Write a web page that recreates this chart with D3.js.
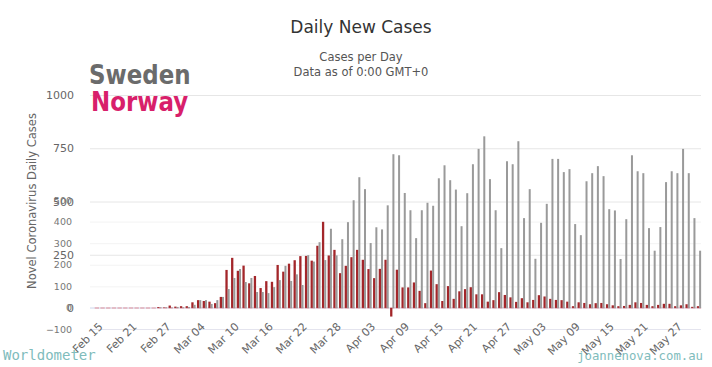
<!DOCTYPE html>
<html><head><meta charset="utf-8">
<script src="https://cdn.jsdelivr.net/npm/d3@7"></script>
<style>
html,body{margin:0;padding:0;background:#fff;}
#wrap{position:relative;width:712px;height:367px;}
svg{display:block;font-family:"DejaVu Sans",sans-serif;}
.xl{position:absolute;font-family:"DejaVu Sans",sans-serif;font-size:11px;color:#666;white-space:nowrap;line-height:11px;transform-origin:100% 0;transform:rotate(-45deg);}
</style></head>
<body><div id="wrap"><svg id="c" width="712" height="367"></svg></div>
<script>
// ---- data ----
const startDate = "2020-02-15";
const dayCount = 107; // Feb 15 .. May 31
const xTickLabels = ["Feb 15","Feb 21","Feb 27","Mar 04","Mar 10","Mar 16","Mar 22","Mar 28","Apr 03","Apr 09","Apr 15","Apr 21","Apr 27","May 03","May 09","May 15","May 21","May 27"];
const swedenTicks = [0,250,500,750,1000];
const norwayTicks = [-100,0,100,200,300,400,500];
const sweden = [0,0,0,0,0,0,0,0,0,0,0,3,3,2,5,3,5,
 15,37,37,19,37,52,89,141,183,122,141,75,75,70,98,131,198,127,158,108,248,218,309,225,372,247,323,403,506,614,558,305,379,369,482,722,717,540,459,328,459,494,480,609,670,600,556,384,539,675,747,806,605,459,281,689,675,783,422,558,231,400,489,700,700,638,652,394,342,595,633,666,619,464,458,230,417,717,642,633,375,269,380,591,642,633,747,633,422,269];
const norway = [0,0,0,0,0,0,0,0,0,0,0,4,2,11,6,8,8,
 26,36,32,29,22,51,176,232,172,196,114,148,92,124,121,199,168,205,221,240,241,219,288,399,243,269,161,195,235,269,223,180,138,181,223,-40,177,95,95,118,79,22,173,110,32,101,42,77,87,96,63,63,29,36,73,60,49,28,45,26,37,59,53,42,37,36,29,8,26,23,17,22,23,17,12,8,9,14,26,23,14,8,14,19,19,8,12,17,5,8];

// ---- scales ----
const svg = d3.select("#c");
const fmt = d3.utcFormat("%b %d");
const t0 = new Date(startDate+"T00:00:00Z");
const days = d3.utcDay.range(t0, d3.utcDay.offset(t0, dayCount));
const cats = days.map(d => fmt(d));
const step = 5.68;
const x = d3.scaleBand().domain(cats).range([93.2, 93.2 + step*dayCount]).padding(0);
const cx = c => x(c) + x.bandwidth()/2;
const ySwe = d3.scaleLinear().domain([0,1000]).range([308,95]);
const yNor = d3.scaleLinear().domain([-100,500]).range([329.5,200]);
const plotL = 90, plotR = 701;

// titles
svg.append("text").attr("x",361).attr("y",33).attr("text-anchor","middle")
  .attr("font-size",17).attr("fill","#333").text("Daily New Cases");
svg.append("text").attr("x",361).attr("y",61).attr("text-anchor","middle")
  .attr("font-size",11.5).attr("fill","#555").text("Cases per Day");
svg.append("text").attr("x",361).attr("y",76).attr("text-anchor","middle")
  .attr("font-size",11.5).attr("fill","#555").text("Data as of 0:00 GMT+0");

// faint norway grid
const gN = svg.append("g").attr("transform",`translate(${plotL},0)`)
  .call(d3.axisLeft(yNor).tickValues(norwayTicks.filter(v=>v>0 && v<500)).tickSize(-(plotR-plotL)).tickFormat(""));
gN.select(".domain").remove();
gN.selectAll("line").attr("stroke","#f3f3f3");

// sweden grid
const gS = svg.append("g").attr("transform",`translate(${plotL},0)`)
  .call(d3.axisLeft(ySwe).tickValues(swedenTicks.filter(v=>v>0)).tickSize(-(plotR-plotL)).tickFormat(""));
gS.select(".domain").remove();
gS.selectAll("line").attr("stroke","#e6e6e6");

// baseline lines
svg.append("line").attr("x1",plotL).attr("x2",plotR).attr("y1",yNor(-100)).attr("y2",yNor(-100)).attr("stroke","#e4e4ee");
svg.append("line").attr("x1",plotL).attr("x2",plotR).attr("y1",ySwe(0)).attr("y2",ySwe(0)).attr("stroke","#ccd6eb");

// y labels sweden
const lS = svg.append("g").attr("transform","translate(74,0)")
  .call(d3.axisLeft(ySwe).tickValues(swedenTicks).tickSize(0).tickPadding(0).tickFormat(d3.format("d")));
lS.select(".domain").remove();
lS.selectAll("text").attr("font-size",11).attr("fill","#666").attr("font-family","DejaVu Sans");
// y labels norway
const lN = svg.append("g").attr("transform","translate(72,0)")
  .call(d3.axisLeft(yNor).tickValues(norwayTicks).tickSize(0).tickPadding(0).tickFormat(d3.format("d")));
lN.select(".domain").remove();
lN.selectAll("text").attr("font-size",9.5).attr("fill","#777").attr("font-family","DejaVu Sans");

// y axis title
svg.append("text").attr("transform","translate(36,201) rotate(-90)").attr("text-anchor","middle")
  .attr("font-size",11.5).attr("fill","#666").text("Novel Coronavirus Daily Cases");

// bars
svg.append("g").selectAll("rect").data(cats).join("rect")
  .attr("x", c => cx(c)-1.3).attr("y",307).attr("width",4.3).attr("height",2)
  .attr("fill","#e3aab4").attr("opacity",0.7);
svg.append("g").selectAll("rect").data(cats.map((c,i)=>({c,v:norway[i]}))).join("rect")
  .attr("x", d => cx(d.c)-1.3).attr("width",2.3)
  .attr("y", d => Math.min(yNor(d.v), yNor(0)))
  .attr("height", d => Math.abs(yNor(d.v)-yNor(0)))
  .attr("fill","#a3262a");
svg.append("g").selectAll("rect").data(cats.map((c,i)=>({c,v:sweden[i]}))).join("rect")
  .attr("x", d => cx(d.c)+1).attr("width",2)
  .attr("y", d => ySwe(d.v))
  .attr("height", d => ySwe(0)-ySwe(d.v))
  .attr("fill","#9a9a9a");

// x labels (HTML, rotated -45deg around their top-right corner)
d3.select("#wrap").selectAll("div.xl").data(xTickLabels).join("div")
  .attr("class","xl")
  .style("right", d => (712 - (cx(d) + 1)) + "px")
  .style("top", "321px")
  .text(d => d);

// legend-like overlays
svg.append("text").attr("transform","translate(89,84) scale(0.85,1)").attr("font-size",27).attr("font-weight","bold").attr("fill","#6b6b6b").text("Sweden");
svg.append("text").attr("transform","translate(91,111) scale(0.85,1)").attr("font-size",27).attr("font-weight","bold").attr("fill","#d81f6b").text("Norway");

// credits
svg.append("text").attr("x",3).attr("y",360).attr("font-family","DejaVu Sans Mono").attr("font-size",14).attr("fill","#80bcbc").text("Worldometer");
svg.append("text").attr("x",703).attr("y",360).attr("text-anchor","end").attr("font-family","DejaVu Sans Mono").attr("font-size",12.3).attr("fill","#80bcbc").text("joannenova.com.au");
</script></body></html>
